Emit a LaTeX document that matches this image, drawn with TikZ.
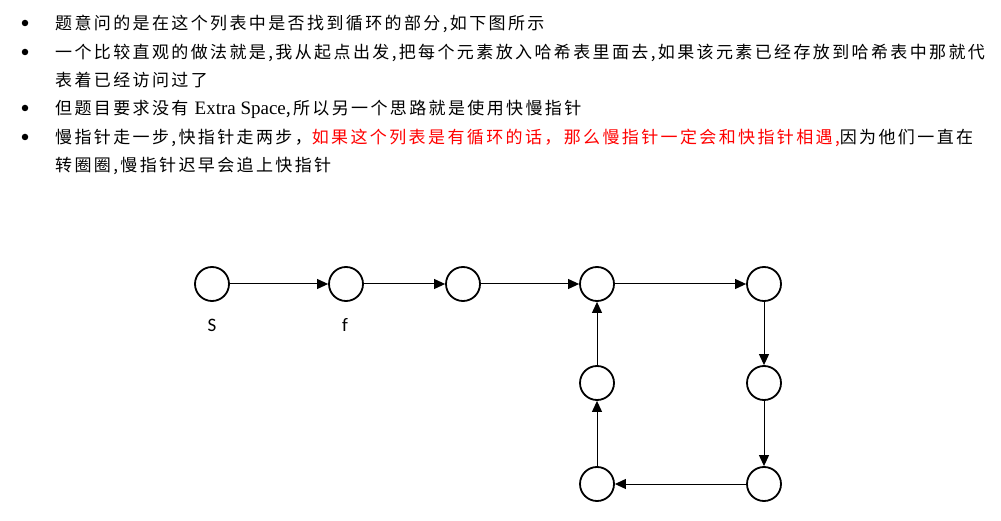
\documentclass[tikz,border=0pt]{standalone}
\usepackage{fontspec}
\setmainfont{Liberation Serif}
\newfontfamily\cjk[LetterSpace=14]{Noto Sans CJK SC}
\newfontfamily\lblfont{Carlito}
\usetikzlibrary{arrows.meta}
\begin{document}
\begin{tikzpicture}[x=1pt,y=-1pt,
  txt/.style={anchor=base west, inner sep=0, font=\cjk\fontsize{17}{17}\selectfont},
  bul/.style={circle, fill, inner sep=0, minimum size=6.5pt},
  nd/.style={circle, draw, line width=1.8pt, minimum size=34pt, inner sep=0},
  arr/.style={-{Triangle[length=11pt,width=10pt]}, line width=1pt},
  lbl/.style={inner sep=0, font=\lblfont\fontsize{19}{19}\selectfont}]
\useasboundingbox (0,0) rectangle (1001,521);
% bullets
\node[bul] (b1) at (25,23) {};
\node[bul] (b2) at (25,52) {};
\node[bul] (b3) at (25,108) {};
\node[bul] (b4) at (25,137) {};
% text lines
\node[txt] (l1) at (55,29.5) {题意问的是在这个列表中是否找到循环的部分,如下图所示};
\node[txt] (l2) at (55,58.5) {一个比较直观的做法就是,我从起点出发,把每个元素放入哈希表里面去,如果该元素已经存放到哈希表中那就代};
\node[txt] (l3) at (55,86.5) {表着已经访问过了};
\node[txt] (l4) at (55,114.5) {但题目要求没有 {\rmfamily\fontsize{19}{19}\selectfont Extra Space},所以另一个思路就是使用快慢指针};
\node[txt] (l5) at (55,143.5) {慢指针走一步,快指针走两步，{\color{red}如果这个列表是有循环的话，那么慢指针一定会和快指针相遇,}因为他们一直在};
\node[txt] (l6) at (55,171.5) {转圈圈,慢指针迟早会追上快指针};
% graph
\node[nd] (n1) at (212,284) {};
\node[nd] (n2) at (346,284) {};
\node[nd] (n3) at (463,284) {};
\node[nd] (n4) at (597,284) {};
\node[nd] (n5) at (764,284) {};
\node[nd] (n6) at (764,383) {};
\node[nd] (n7) at (764,484) {};
\node[nd] (n8) at (597,484) {};
\node[nd] (n9) at (597,383) {};
\draw[arr] (n1) -- (n2);
\draw[arr] (n2) -- (n3);
\draw[arr] (n3) -- (n4);
\draw[arr] (n4) -- (n5);
\draw[arr] (n5) -- (n6);
\draw[arr] (n6) -- (n7);
\draw[arr] (n7) -- (n8);
\draw[arr] (n8) -- (n9);
\draw[arr] (n9) -- (n4);
\node[lbl] (s) at (212,325) {S};
\node[lbl] (f) at (345,325) {f};
\end{tikzpicture}
\end{document}
